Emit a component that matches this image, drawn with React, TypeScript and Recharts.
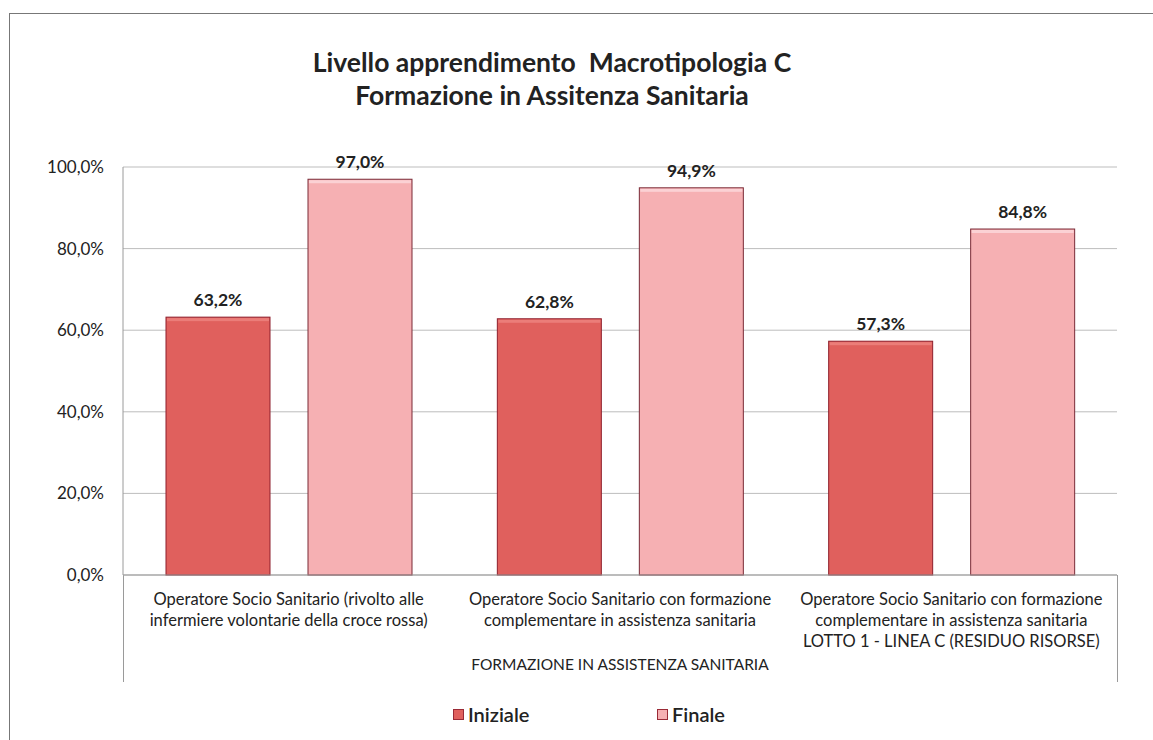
import { BarChart, Bar, XAxis, YAxis, CartesianGrid, LabelList, Legend } from "recharts";

const categories = [
  "Operatore Socio Sanitario (rivolto alle\ninfermiere volontarie della croce rossa)",
  "Operatore Socio Sanitario con formazione\ncomplementare in assistenza sanitaria",
  "Operatore Socio Sanitario con formazione\ncomplementare in assistenza sanitaria\nLOTTO 1 - LINEA C (RESIDUO RISORSE)",
];
const seriesNames = ["Iniziale", "Finale"];
const iniziale = [63.2, 62.8, 57.3];
const finale = [97.0, 94.9, 84.8];
const yTicks = [0, 20, 40, 60, 80, 100];
const groupLabel = "FORMAZIONE IN ASSISTENZA SANITARIA";

const data = categories.map((name, i) => ({
  name,
  Iniziale: iniziale[i],
  Finale: finale[i],
}));

const FONT = "Lato, 'Open Sans', sans-serif";

const fmt = (v: number) => v.toFixed(1).replace(".", ",") + "%";

const CategoryTick = (props: any) => {
  const { x, y, payload } = props;
  const lines = String(payload.value).split("\n");
  return (
    <text x={x} y={y} textAnchor="middle" fill="#222" fontSize={16.5} fontFamily={FONT}>
      {lines.map((l, i) => (
        <tspan key={i} x={x} y={y + 30 + i * 21}>
          {l}
        </tspan>
      ))}
    </text>
  );
};

const BevelBar = (props: any) => {
  const { x, y, width, height, fill, highlight, edge } = props;
  if (!height || height <= 0) return null;
  return (
    <g>
      <rect x={x} y={y} width={width} height={height} fill={fill} stroke={edge} strokeWidth={1} />
      <rect x={x + 1} y={y + 1} width={width - 2} height={3} fill={highlight} opacity={0.7} />
    </g>
  );
};

const LegendContent = (props: any) => {
  const items = [...(props.payload || [])].sort(
    (a: any, b: any) => seriesNames.indexOf(a.value) - seriesNames.indexOf(b.value)
  );
  return (
    <div style={{ paddingLeft: 453, display: "flex", fontFamily: FONT, fontSize: 20, fontWeight: 600, color: "#222" }}>
      {items.map((it: any, i: number) => (
        <div key={i} style={{ width: i === 0 ? 204 : 100, display: "flex", alignItems: "center" }}>
          <span
            style={{
              display: "inline-block",
              width: 9,
              height: 9,
              background: it.color,
              border: "1px solid #9a2a36",
              marginRight: 4,
            }}
          />
          {it.value}
        </div>
      ))}
    </div>
  );
};

export default function App() {
  return (
    <div
      style={{
        position: "absolute",
        left: 0,
        top: 0,
        width: 1153,
        height: 740,
        background: "#fff",
        overflow: "hidden",
      }}
    >
      <div
        style={{
          position: "absolute",
          left: 9,
          top: 13,
          width: 1300,
          height: 900,
          border: "1.5px solid #777",
        }}
      />
      <div
        style={{
          position: "absolute",
          left: 0,
          top: 46,
          width: 1104,
          textAlign: "center",
          fontFamily: FONT,
          fontWeight: 700,
          fontSize: 26.5,
          lineHeight: "33px",
          color: "#222",
        }}
      >
        Livello apprendimento&nbsp; Macrotipologia C
        <br />
        Formazione in Assitenza Sanitaria
      </div>
      <div
        style={{
          position: "absolute",
          left: 123,
          top: 575,
          width: 993,
          height: 107,
          borderLeft: "1px solid #9a9a9a",
          borderRight: "1px solid #9a9a9a",
        }}
      />
      <div style={{ position: "absolute", left: 0, top: 0 }}>
        <BarChart
          width={1153}
          height={740}
          data={data}
          margin={{ top: 167, right: 36, bottom: 58, left: 0 }}
          barCategoryGap={43}
          barGap={38}
        >
          <CartesianGrid vertical={false} stroke="#bdbdbd" />
          <XAxis
            dataKey="name"
            height={107}
            tickLine={false}
            tickSize={0}
            tickMargin={0}
            interval={0}
            axisLine={{ stroke: "#9a9a9a" }}
            tick={<CategoryTick />}
            label={{
              value: groupLabel,
              position: "insideBottom",
              offset: 12,
              fontSize: 15.5,
              fontFamily: FONT,
              fill: "#222",
            }}
          />
          <YAxis
            width={123}
            domain={[0, 100]}
            ticks={yTicks}
            tickFormatter={fmt}
            tickLine={false}
            tickSize={0}
            tickMargin={19}
            axisLine={{ stroke: "#9a9a9a" }}
            tick={{ fontSize: 17, fontFamily: FONT, fill: "#222" }}
          />
          <Legend
            verticalAlign="middle"
            layout="horizontal"
            wrapperStyle={{ top: 702, left: 0, width: 1153 }}
            content={<LegendContent />}
          />
          <Bar
            dataKey="Iniziale"
            fill="#e0605d"
            isAnimationActive={false}
            shape={<BevelBar edge="#8e1f2c" highlight="#f08a86" />}
          >
            <LabelList
              dataKey="Iniziale"
              position="top"
              offset={11}
              formatter={(v: any) => fmt(Number(v))}
              style={{ fontSize: 17.5, fontWeight: 700, fontFamily: FONT, fill: "#222" }}
            />
          </Bar>
          <Bar
            dataKey="Finale"
            fill="#f6b0b3"
            isAnimationActive={false}
            shape={<BevelBar edge="#7a2a36" highlight="#fde0e2" />}
          >
            <LabelList
              dataKey="Finale"
              position="top"
              offset={11}
              formatter={(v: any) => fmt(Number(v))}
              style={{ fontSize: 17.5, fontWeight: 700, fontFamily: FONT, fill: "#222" }}
            />
          </Bar>
        </BarChart>
      </div>
    </div>
  );
}
